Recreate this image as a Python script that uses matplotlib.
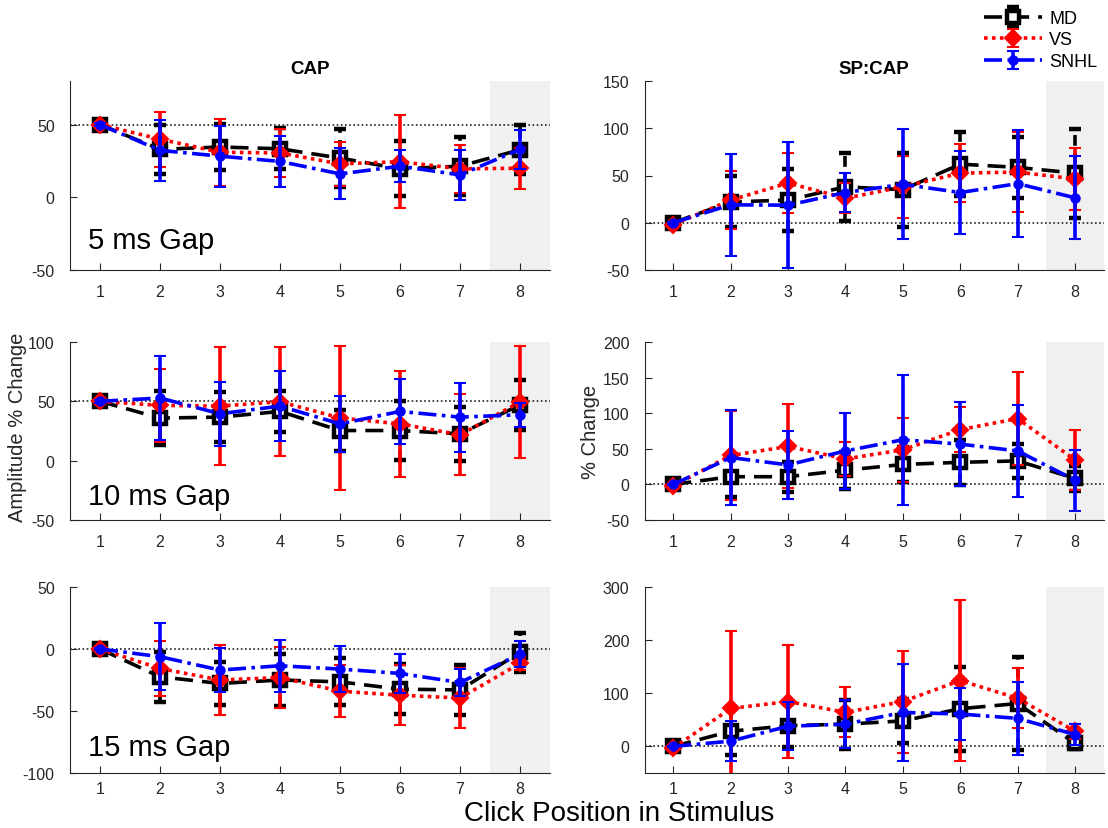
import matplotlib
matplotlib.use("Agg")
import matplotlib.pyplot as plt
import numpy as np

plt.rcParams['font.family'] = ['Liberation Sans', 'DejaVu Sans']
plt.rcParams['axes.unicode_minus'] = False

clicks = [1, 2, 3, 4, 5, 6, 7, 8]
xtick_labels = ['1', '2', '3', '4', '5', '6', '7', '8']
groups = ['MD', 'VS', 'SNHL']
gap_labels = ['5 ms Gap', '10 ms Gap', '15 ms Gap']
col_titles = ['CAP', 'SP:CAP']

# ---- CAP (left column) ----
cap5_md = [50, 33, 34.6, 33.4, 27, 19.6, 21.4, 32.7]
cap5_md_err = [1, 17, 16, 14, 20, 19, 20, 17]
cap5_vs = [50, 40, 31, 30.5, 23, 24.5, 19.6, 20]
cap5_vs_err = [1, 19, 23, 16.5, 15, 32, 16.5, 14]
cap5_sn = [50, 32.3, 28.3, 24.7, 16.1, 21.4, 15.4, 33]
cap5_sn_err = [1, 21, 21, 17.5, 17.5, 11, 17, 13.5]

cap10_md = [50, 35.9, 36.7, 41.5, 25.4, 25.4, 22.6, 47]
cap10_md_err = [1, 23, 21, 17.5, 17, 25, 23, 21]
cap10_vs = [50, 46.6, 46, 49.7, 36, 31, 21.8, 49.4]
cap10_vs_err = [2, 31, 50, 46, 61, 44.5, 34, 47]
cap10_sn = [50, 52.8, 39.5, 46, 31, 41.5, 36.7, 38.7]
cap10_sn_err = [1, 35, 27, 29.5, 23.6, 27.5, 29, 10]

cap15_md = [0, -22.4, -27.8, -25, -26.5, -32.4, -33, -2.7]
cap15_md_err = [1, 20, 17.5, 21, 19, 20, 20, 16]
cap15_vs = [0, -15.7, -25, -23, -34, -37.3, -39.5, -11.6]
cap15_vs_err = [2, 22, 28, 24.4, 21, 24, 24.5, 5]
cap15_sn = [0, -6.2, -17, -13.5, -16.2, -19.7, -27, -4.3]
cap15_sn_err = [1, 27, 18, 21, 18.7, 15.5, 10.8, 10.5]

# ---- SP:CAP (right column) ----
sp5_md = [0, 22, 24, 38, 35, 62, 58.6, 52.5]
sp5_md_err = [2, 27, 33, 36, 39, 34, 32, 47]
sp5_vs = [-2, 24, 42, 26, 38, 52.5, 53.6, 46.4]
sp5_vs_err = [3, 31, 32, 16, 33, 31, 42, 33]
sp5_sn = [0, 19, 18.6, 32, 40.7, 32, 41.4, 26.4]
sp5_sn_err = [1, 54, 67, 21, 58, 44, 57, 44]

sp10_md = [0, 10.8, 10.8, 20, 28, 31, 33, 8.5]
sp10_md_err = [2, 28, 21, 26, 25, 32, 23.5, 18]
sp10_vs = [-2, 40.6, 53.3, 35.8, 48.6, 76.9, 92.5, 34.4]
sp10_vs_err = [4, 63, 59, 23.5, 45, 32, 65, 42]
sp10_sn = [0, 37.7, 27.4, 47, 62.7, 56.6, 47, 6]
sp10_sn_err = [1, 67, 48, 53.5, 91.5, 58.5, 64, 43]

sp15_md = [0, 28.6, 39, 42, 48, 71, 80.7, 6]
sp15_md_err = [3, 45, 40, 46, 42, 79, 87, 10]
sp15_vs = [-3, 71.4, 84.5, 64, 84.5, 124, 90.7, 28.6]
sp15_vs_err = [5, 146, 107, 47, 96, 151, 56.6, 14]
sp15_sn = [0, 10, 38, 42, 64, 61, 52.8, 22.4]
sp15_sn_err = [1, 37, 45, 44.7, 92, 49, 69, 20]

panels = [
    [(cap5_md, cap5_md_err, cap5_vs, cap5_vs_err, cap5_sn, cap5_sn_err),
     (sp5_md, sp5_md_err, sp5_vs, sp5_vs_err, sp5_sn, sp5_sn_err)],
    [(cap10_md, cap10_md_err, cap10_vs, cap10_vs_err, cap10_sn, cap10_sn_err),
     (sp10_md, sp10_md_err, sp10_vs, sp10_vs_err, sp10_sn, sp10_sn_err)],
    [(cap15_md, cap15_md_err, cap15_vs, cap15_vs_err, cap15_sn, cap15_sn_err),
     (sp15_md, sp15_md_err, sp15_vs, sp15_vs_err, sp15_sn, sp15_sn_err)],
]
ylims = [[(-50, 80), (-50, 150)], [(-50, 100), (-50, 200)], [(-100, 50), (-50, 300)]]
yticks = [[[-50, 0, 50], [-50, 0, 50, 100, 150]],
          [[-50, 0, 50, 100], [-50, 0, 50, 100, 150, 200]],
          [[-100, -50, 0, 50], [0, 100, 200, 300]]]
refs = [[50, 0], [50, 0], [0, 0]]
gap_y = [0.16, 0.135, 0.14]

W, H = 1108, 829
fig = plt.figure(figsize=(W / 100, H / 100), dpi=100)
col_x = [(70, 550), (644.6, 1103.7)]
row_y = [(82, 271), (343, 521), (588, 774)]
xpads = [10, 10, 6]

styles = [
    dict(color='black', ls=(0, (5, 2.5)), marker='s', ms=8, mfc='white', mew=3.2, bar_ls=(0, (3, 2))),
    dict(color='red', ls=(0, (1, 1.2)), marker='D', ms=8, mfc='red', mew=1.5, bar_ls='-'),
    dict(color='blue', ls=(0, (5, 1.5, 1, 1.5)), marker='o', ms=6, mfc='blue', mew=1.5, bar_ls='-'),
]
ink = '#262626'
handles = []
for r in range(3):
    for c in range(2):
        x0, x1 = col_x[c]
        t, b = row_y[r]
        ax = fig.add_axes([x0 / W, 1 - b / H, (x1 - x0) / W, (b - t) / H])
        ax.set_xlim(0.5, 8.5)
        ax.set_ylim(*ylims[r][c])
        ax.axvspan(7.5, 8.5, color='#f0f0f0', zorder=0, lw=0)
        ax.axhline(refs[r][c], color='#202020', ls=(0, (1, 1.5)), lw=1.2, zorder=1)
        d = panels[r][c]
        for g in range(3):
            s = styles[g]
            y = d[2 * g]
            e = d[2 * g + 1]
            cont = ax.errorbar(clicks, y, yerr=e, color=s['color'], ls=s['ls'], lw=2.6,
                               marker=s['marker'], ms=s['ms'], mfc=s['mfc'], mec=s['color'],
                               mew=s['mew'], capsize=4, capthick=2.6, elinewidth=2.6,
                               zorder=2 + g, label=groups[g])
            cont[2][0].set_linestyle(s['bar_ls'])
            if r == 0 and c == 0:
                handles.append(cont)
        ax.set_xticks(clicks)
        ax.set_xticklabels(xtick_labels)
        ax.set_yticks(yticks[r][c])
        for sp in ['top', 'right']:
            ax.spines[sp].set_visible(False)
        for sp in ['left', 'bottom']:
            ax.spines[sp].set_color(ink)
            ax.spines[sp].set_linewidth(0.8)
        ax.tick_params(direction='in', length=5, colors=ink, labelsize=11.5, labelcolor=ink)
        ax.tick_params(axis='x', pad=xpads[r])
        ax.tick_params(axis='y', pad=11)
        if r == 0:
            ax.set_title(col_titles[c], fontsize=13.5, fontweight='bold', pad=6)
        if c == 0:
            ax.text(0.038, gap_y[r], gap_labels[r], transform=ax.transAxes, fontsize=21,
                    va='center', ha='left', color='black')

fig.text(18 / W, 1 - 427 / H, 'Amplitude % Change', rotation=90, fontsize=14.5,
         ha='center', va='center', color=ink)
fig.text(590 / W, 1 - 432 / H, '% Change', rotation=90, fontsize=14.5,
         ha='center', va='center', color=ink)
fig.text(619 / W, 1 - 814 / H, 'Click Position in Stimulus', fontsize=20,
         ha='center', va='center', color='black')

fig.legend(handles=handles, labels=groups, loc='upper right', bbox_to_anchor=(1.0, 1.0),
           frameon=False, fontsize=13, handlelength=3.2, labelspacing=0.25,
           handletextpad=0.4, borderaxespad=0.2)

fig.savefig('out.png', dpi=100)
